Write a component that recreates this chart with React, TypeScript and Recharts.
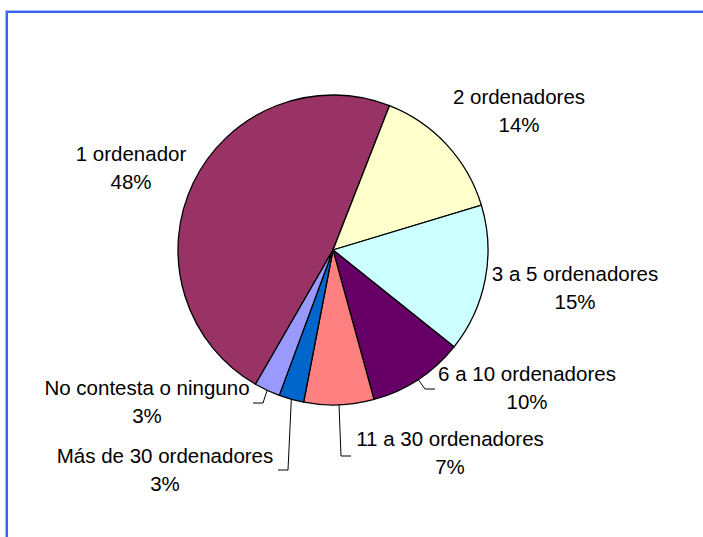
import React from 'react';
import { PieChart, Pie, Cell } from 'recharts';

// categories and shares (%)
const categories = [
  '1 ordenador',
  '2 ordenadores',
  '3 a 5 ordenadores',
  '6 a 10 ordenadores',
  '11 a 30 ordenadores',
  'Más de 30 ordenadores',
  'No contesta o ninguno'
];
const shares = [47.6, 14.4, 15.4, 10.0, 7.3, 2.6, 2.7];
const sliceColors = ['#993366', '#FFFFCC', '#CCFFFF', '#660066', '#FF8080', '#0066CC', '#9999FF'];

const chartData = categories.map((name, i) => ({ name, value: shares[i] }));

// label placement relative to the pie centre (text block middle, optional leader end)
const labelLayout: { tx: number; ty: number; lx?: number; ly?: number }[] = [
  { tx: -202, ty: -83 },
  { tx: 186, ty: -140 },
  { tx: 242, ty: 37 },
  { tx: 194, ty: 137, lx: 102, ly: 139 },
  { tx: 117, ty: 202, lx: 18, ly: 206 },
  { tx: -168, ty: 219, lx: -55, ly: 220 },
  { tx: -186, ty: 151, lx: -80, ly: 153 }
];

const CX = 333;
const CY = 250;
const R = 155;
const RAD = Math.PI / 180;
const FONT = "'Liberation Sans', Arial, sans-serif";

const renderLabel = (props: any) => {
  const { index, midAngle, percent, name } = props;
  const cx = props.cx ?? CX;
  const cy = props.cy ?? CY;
  const outerRadius = props.outerRadius ?? R;
  const layout = labelLayout[index];
  const tx = cx + layout.tx;
  const ty = cy + layout.ty;
  let leader = null;
  if (layout.lx !== undefined && layout.ly !== undefined) {
    const sx = cx + outerRadius * Math.cos(-midAngle * RAD);
    const sy = cy + outerRadius * Math.sin(-midAngle * RAD);
    const ex = cx + layout.lx;
    const ey = cy + layout.ly;
    const elbowX = layout.lx > 0 ? ex - 10 : ex + 10;
    leader = (
      <polyline
        points={`${sx},${sy} ${elbowX},${ey} ${ex},${ey}`}
        fill="none"
        stroke="#000"
        strokeWidth={1}
      />
    );
  }
  return (
    <g key={`label-${index}`}>
      {leader}
      <text x={tx} y={ty - 14} textAnchor="middle" dominantBaseline="central" fontFamily={FONT} fontSize={20.5} fill="#000">
        {name}
      </text>
      <text x={tx} y={ty + 14} textAnchor="middle" dominantBaseline="central" fontFamily={FONT} fontSize={20.5} fill="#000">
        {`${Math.round(percent * 100)}%`}
      </text>
    </g>
  );
};

const App: React.FC = () => {
  return (
    <>
      <style>{'html,body{margin:0;padding:0;overflow:hidden;}'}</style>
      <div style={{ position: 'relative', width: 703, height: 537, overflow: 'hidden', background: '#fff' }}>
        <svg width={703} height={537} style={{ position: 'absolute', left: 0, top: 0 }}>
          <line x1={6} y1={10.5} x2={703} y2={10.5} stroke="#a8bbff" strokeWidth={1} />
          <line x1={5.5} y1={10} x2={5.5} y2={537} stroke="#a8bbff" strokeWidth={1} />
          <line x1={7} y1={12} x2={703} y2={12} stroke="#3a62f7" strokeWidth={2} />
          <line x1={7} y1={11} x2={7} y2={537} stroke="#3a62f7" strokeWidth={2} />
        </svg>
        <div style={{ position: 'absolute', left: 0, top: 0 }}>
          <PieChart
            width={703}
            height={537}
            margin={{ top: 0, right: 0, bottom: 0, left: 0 }}
            accessibilityLayer={false}
            style={{ outline: 'none' }}
          >
            <Pie
              data={chartData}
              dataKey="value"
              nameKey="name"
              cx={CX}
              cy={CY}
              outerRadius={R}
              startAngle={-120}
              endAngle={-480}
              stroke="#000"
              strokeWidth={1.3}
              label={renderLabel}
              labelLine={false}
              isAnimationActive={false}
            >
              {chartData.map((_, index) => (
                <Cell key={`cell-${index}`} fill={sliceColors[index]} />
              ))}
            </Pie>
          </PieChart>
        </div>
      </div>
    </>
  );
};

export default App;
